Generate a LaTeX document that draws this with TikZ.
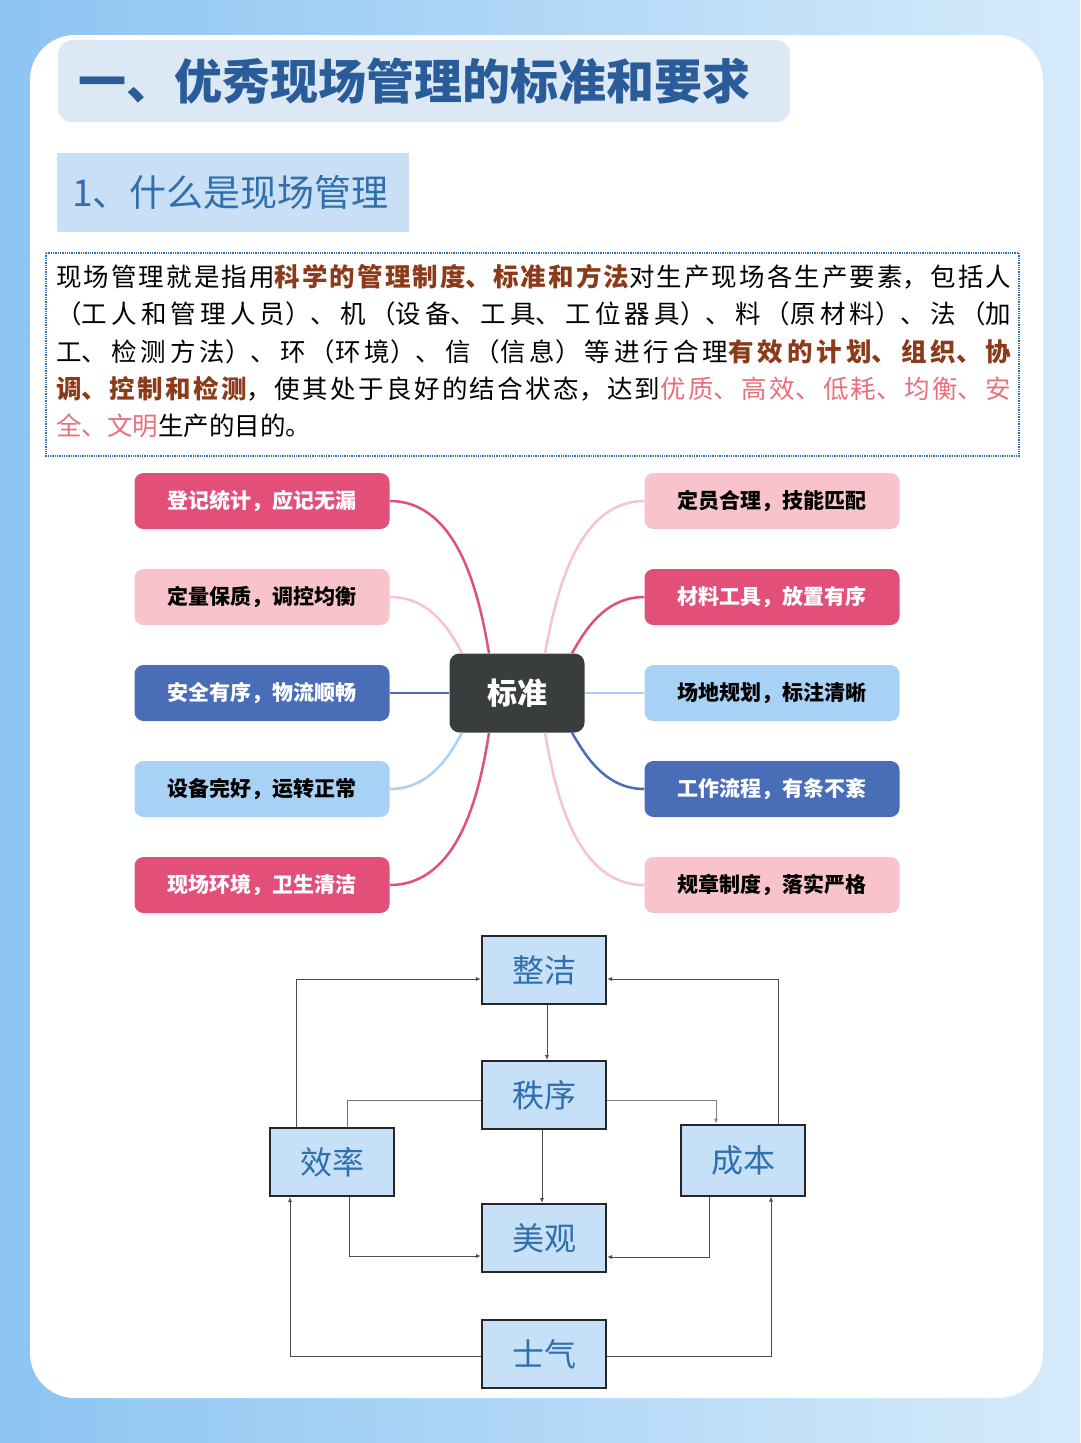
\documentclass[tikz,border=0pt]{standalone}
\usepackage{fontspec}
\setmainfont{Noto Sans CJK SC}
\XeTeXlinebreaklocale "zh"
\XeTeXlinebreakskip=0pt plus 3pt
\usetikzlibrary{arrows.meta}
\definecolor{dpink}{HTML}{E2507A}
\definecolor{lpink}{HTML}{F9C3CC}
\definecolor{dblue}{HTML}{4A6DB8}
\definecolor{lblue}{HTML}{A8D2F5}
\definecolor{brownt}{HTML}{8B3A1A}
\definecolor{pinkt}{HTML}{E8707A}
\definecolor{titleblue}{HTML}{2B5C9A}
\definecolor{boxfill}{HTML}{C5E0F7}
\definecolor{boxtext}{HTML}{2F6FAE}
\tikzset{
 mm/.style={rounded corners=9pt,minimum width=255pt,minimum height=56pt,font=\fontsize{21}{23}\selectfont\bfseries},
 mmw/.style={mm,fill=#1,text=white},
 mmb/.style={mm,fill=#1,text=black},
 fbox/.style={draw=black!85,line width=2pt,fill=boxfill,minimum width=124pt,minimum height=68pt,text=boxtext,font=\fontsize{32}{34}\selectfont},
 arr/.style={draw=black!70,line width=0.9pt,-{Latex[length=5pt,width=4pt]}},
 ln/.style={draw=black!55,line width=0.9pt},
 cn/.style={line width=2.5pt}
}
\begin{document}
\begin{tikzpicture}[x=1pt,y=-1pt]
\useasboundingbox (0,0) rectangle (1080,1443);
\shade[left color={rgb,255:red,141;green,196;blue,242},right color={rgb,255:red,214;green,235;blue,251}] (0,0) rectangle (1080,1443);
\fill[white,rounded corners=45pt] (30,35) rectangle (1043,1398);
% title
\node[fill={rgb,255:red,220;green,233;blue,245},rounded corners=14pt,minimum width=732pt,minimum height=82pt,anchor=north west] (title) at (58,40) {};
\node[anchor=west,text=titleblue,font=\fontsize{48}{50}\selectfont\bfseries,inner sep=0pt] (titlet) at (78,81) {一、优秀现场管理的标准和要求};
\node[fill={rgb,255:red,201;green,223;blue,245},minimum width=352pt,minimum height=79pt,anchor=north west] (sub) at (57,153) {};
\node[anchor=west,text=boxtext,font=\fontsize{37}{39}\selectfont,inner sep=0pt] (subt) at (72,192) {1、什么是现场管理};
% paragraph
\draw[densely dotted,draw=boxtext,line width=1.3pt] (46,253) rectangle (1019,456);
\node[anchor=north west,inner sep=0pt,text width=955pt,align=justify,font=\fontsize{25.5}{37.3}\selectfont] (para) at (56,264) {现场管理就是指用\textcolor{brownt}{\bfseries 科学的管理制度、标准和方法}对生产现场各生产要素，包括人\linebreak （工人和管理人员）、机（设备、工具、工位器具）、料（原材料）、法（加\linebreak 工、检测方法）、环（环境）、信（信息）等进行合理\textcolor{brownt}{\bfseries 有效的计划、组织、协\linebreak 调、控制和检测}，使其处于良好的结合状态，达到\textcolor{pinkt}{优质、高效、低耗、均衡、安\linebreak 全、文明}生产的目的。};
% mind map
\node[fill={rgb,255:red,58;green,61;blue,62},rounded corners=10pt,minimum width=135pt,minimum height=79pt,text=white,font=\fontsize{30}{32}\selectfont\bfseries] (c) at (517,693) {标准};
\node[mmw=dpink] (l1) at (262,501) {登记统计，应记无漏};
\node[mmb=lpink] (l2) at (262,597) {定量保质，调控均衡};
\node[mmw=dblue] (l3) at (262,693) {安全有序，物流顺畅};
\node[mmb=lblue] (l4) at (262,789) {设备完好，运转正常};
\node[mmw=dpink] (l5) at (262,885) {现场环境，卫生清洁};
\node[mmb=lpink] (r1) at (772,501) {定员合理，技能匹配};
\node[mmw=dpink] (r2) at (772,597) {材料工具，放置有序};
\node[mmb=lblue] (r3) at (772,693) {场地规划，标注清晰};
\node[mmw=dblue] (r4) at (772,789) {工作流程，有条不紊};
\node[mmb=lpink] (r5) at (772,885) {规章制度，落实严格};
\draw[cn,dpink] (l1.east) .. controls (460,501) and (480,600) .. ([xshift=-28pt]c.north);
\draw[cn,lpink] (l2.east) .. controls (430,597) and (450,630) .. ([xshift=-55pt]c.north);
\draw[cn,dblue] (l3.east) -- (c.west);
\draw[cn,lblue] (l4.east) .. controls (430,789) and (450,755) .. ([xshift=-55pt]c.south);
\draw[cn,dpink] (l5.east) .. controls (460,885) and (480,790) .. ([xshift=-28pt]c.south);
\draw[cn,lpink] (r1.west) .. controls (575,501) and (555,600) .. ([xshift=28pt]c.north);
\draw[cn,dpink] (r2.west) .. controls (605,597) and (585,630) .. ([xshift=55pt]c.north);
\draw[cn,lblue] (r3.west) -- (c.east);
\draw[cn,dblue] (r4.west) .. controls (605,789) and (585,755) .. ([xshift=55pt]c.south);
\draw[cn,lpink] (r5.west) .. controls (575,885) and (555,790) .. ([xshift=28pt]c.south);
% flowchart
\node[fbox] (zj) at (544,970) {整洁};
\node[fbox] (zx) at (544,1095) {秩序};
\node[fbox] (xl) at (332,1162) {效率};
\node[fbox,minimum height=71pt] (cb) at (743,1160) {成本};
\node[fbox] (mg) at (544,1238) {美观};
\node[fbox] (sq) at (544,1354) {士气};
\draw[arr] ([xshift=-36pt]xl.north) |- ([yshift=-9pt]zj.west);
\draw[arr] ([xshift=35pt]cb.north) |- ([yshift=-9pt]zj.east);
\draw[arr] ([xshift=3pt]zj.south) -- ([xshift=3pt]zx.north);
\draw[ln] ([yshift=-5pt]zx.west) -| ([xshift=15pt]xl.north);
\draw[arr,draw=black!50] ([yshift=-5pt]zx.east) -| ([xshift=-27pt]cb.north);
\draw[arr] ([xshift=-2pt]zx.south) -- ([xshift=-2pt]mg.north);
\draw[arr] ([xshift=17pt]xl.south) |- ([yshift=-18pt]mg.west);
\draw[arr] ([xshift=-34pt]cb.south) |- ([yshift=-19pt]mg.east);
\draw[arr] ([yshift=-2pt]sq.west) -| ([xshift=-42pt]xl.south);
\draw[arr] ([yshift=-2pt]sq.east) -| ([xshift=28pt]cb.south);
\end{tikzpicture}
\end{document}
